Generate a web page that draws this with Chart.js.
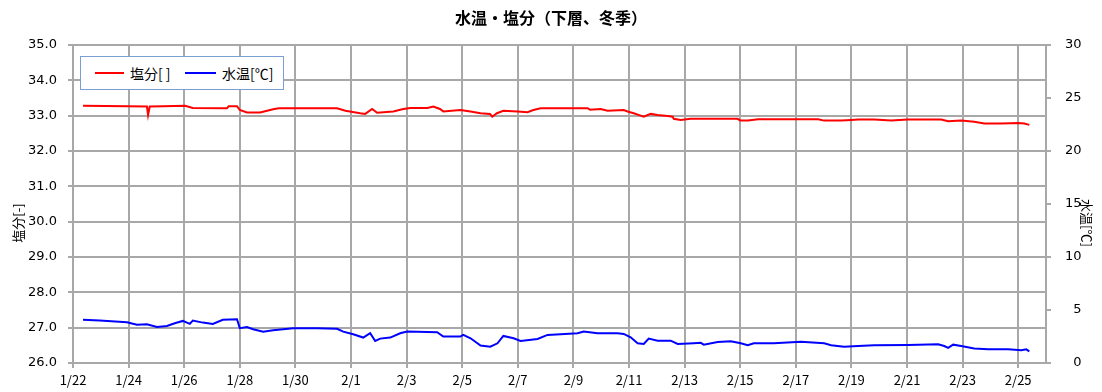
<!DOCTYPE html>
<html lang="ja">
<head>
<meta charset="utf-8">
<title>水温・塩分（下層、冬季）</title>
<script src="https://cdn.jsdelivr.net/npm/chart.js@4.4.1/dist/chart.umd.min.js"></script>
<style>
  html, body { margin: 0; padding: 0; background: #fff; }
  #wrap { position: relative; width: 1102px; height: 392px; }
  #legend {
    position: absolute; left: 80px; top: 56px; width: 204px; height: 34px;
    box-sizing: border-box; border: 1.5px solid #7b9fd3; background: #fff;
    font: 14px "Noto Sans CJK JP", sans-serif; color: #000;
  }
  #legend .item { position: absolute; top: 0; height: 31px; display: flex; align-items: center; }
  #legend .swatch { display: inline-block; height: 2px; margin-right: 6px; }
</style>
</head>
<body>
<div id="wrap">
  <canvas id="myChart" width="1102" height="392"></canvas>
  <div id="legend">
    <div class="item" style="left:14px"><span class="swatch" style="width:29px;background:#ff0000"></span>塩分[ ]</div>
    <div class="item" style="left:104px"><span class="swatch" style="width:31px;background:#0000ff"></span>水温[℃]</div>
  </div>
</div>
<script>
// ═══════════════════════════════════════
//  DONNÉES (jours depuis le 1/22)
// ═══════════════════════════════════════

const tickDays   = [0, 2, 4, 6, 8, 10, 12, 14, 16, 18, 20, 22, 24, 26, 28, 30, 32, 34];
const tickLabels = ['1/22', '1/24', '1/26', '1/28', '1/30', '2/1', '2/3', '2/5', '2/7',
                    '2/9', '2/11', '2/13', '2/15', '2/17', '2/19', '2/21', '2/23', '2/25'];

const saltDays = [0.36, 1.97, 2.66, 2.70, 2.76, 3.23, 4.03, 4.31, 5.54, 5.60, 5.90, 6.00,
                  6.26, 6.73, 7.20, 7.40, 9.50, 9.80, 10.33, 10.51, 10.76, 10.94, 11.52,
                  11.88, 12.13, 12.75, 12.96, 13.20, 13.32, 13.93, 14.30, 14.66, 15.00,
                  15.08, 15.25, 15.48, 15.99, 16.35, 16.56, 16.82, 18.51, 18.60, 18.98,
                  19.23, 19.81, 19.95, 20.17, 20.42, 20.53, 20.78, 21.03, 21.39, 21.57,
                  21.61, 21.86, 22.22, 23.91, 24.00, 24.28, 24.64, 26.80, 27.02, 27.63,
                  27.99, 28.24, 28.82, 29.43, 30.04, 31.23, 31.48, 31.95, 32.42, 32.78,
                  33.39, 34.00, 34.22, 34.40];
const saltValues = [33.28, 33.27, 33.26, 33.02, 33.26, 33.27, 33.28, 33.22, 33.21, 33.27, 33.27, 33.16,
                    33.09, 33.09, 33.18, 33.21, 33.21, 33.14, 33.07, 33.05, 33.19, 33.08, 33.12,
                    33.19, 33.22, 33.22, 33.26, 33.19, 33.12, 33.16, 33.12, 33.07, 33.05,
                    32.97, 33.07, 33.14, 33.12, 33.10, 33.16, 33.21, 33.21, 33.17, 33.19,
                    33.14, 33.16, 33.12, 33.07, 33.00, 32.97, 33.05, 33.02, 32.99, 32.97,
                    32.91, 32.88, 32.91, 32.91, 32.86, 32.86, 32.90, 32.90, 32.86, 32.86,
                    32.88, 32.89, 32.89, 32.86, 32.89, 32.89, 32.84, 32.86, 32.83, 32.78,
                    32.78, 32.79, 32.78, 32.74];

const tempDays = [0.36, 0.96, 1.94, 2.30, 2.66, 3.02, 3.38, 3.66, 3.95, 4.20, 4.31, 4.67,
                  5.03, 5.39, 5.90, 6.00, 6.26, 6.48, 6.84, 7.20, 7.92, 8.78, 9.50, 9.72,
                  10.08, 10.44, 10.69, 10.87, 11.05, 11.41, 11.77, 12.02, 13.10, 13.32,
                  13.93, 14.04, 14.30, 14.66, 15.01, 15.27, 15.48, 15.85, 16.10, 16.71,
                  17.07, 17.54, 18.15, 18.37, 18.87, 19.59, 19.81, 20.06, 20.31, 20.53,
                  20.71, 21.03, 21.50, 21.75, 22.33, 22.58, 22.69, 23.19, 23.66, 24.02,
                  24.27, 24.49, 25.21, 26.19, 27.02, 27.27, 27.74, 28.24, 28.82, 30.04,
                  31.12, 31.34, 31.48, 31.66, 31.95, 32.42, 32.92, 33.64, 34.11, 34.29, 34.40];
const tempValues = [4.07, 4.00, 3.85, 3.60, 3.66, 3.40, 3.50, 3.75, 3.97, 3.69, 4.00, 3.81,
                    3.69, 4.07, 4.13, 3.28, 3.40, 3.18, 2.96, 3.09, 3.28, 3.28, 3.22, 2.96,
                    2.71, 2.40, 2.81, 2.08, 2.30, 2.40, 2.81, 2.96, 2.90, 2.49,
                    2.49, 2.65, 2.33, 1.64, 1.54, 1.86, 2.55, 2.33, 2.08, 2.27,
                    2.65, 2.71, 2.81, 2.96, 2.81, 2.81, 2.74, 2.43, 1.86, 1.80,
                    2.30, 2.11, 2.11, 1.80, 1.86, 1.90, 1.73, 1.98, 2.05, 1.86,
                    1.67, 1.86, 1.86, 2.00, 1.86, 1.67, 1.54, 1.60, 1.67, 1.70,
                    1.76, 1.60, 1.42, 1.73, 1.60, 1.36, 1.29, 1.29, 1.20, 1.29, 1.10];

const chartTitle = '水温・塩分（下層、冬季）';
const leftTitle  = '塩分[-]';
const rightTitle = '水温[℃]';

// ═══════════════════════════════════════
//  TITRES D'AXES (décalés comme dans Excel)
// ═══════════════════════════════════════

const axisTitles = {
  id: 'axisTitles',
  afterDraw(chart) {
    const { ctx, chartArea, scales } = chart;
    const cy = (chartArea.top + chartArea.bottom) / 2 + 19;
    ctx.save();
    ctx.font = '13px "Noto Sans CJK JP"';
    ctx.fillStyle = '#000';
    ctx.textAlign = 'center';
    ctx.textBaseline = 'middle';
    ctx.translate(scales.y.left + 18, cy);
    ctx.rotate(-Math.PI / 2);
    ctx.fillText(leftTitle, 0, 0);
    ctx.restore();

    ctx.save();
    ctx.font = '13px "Noto Sans CJK JP"';
    ctx.fillStyle = '#000';
    ctx.textAlign = 'center';
    ctx.textBaseline = 'middle';
    ctx.translate(scales.y1.right - 15, cy);
    ctx.rotate(Math.PI / 2);
    ctx.fillText(rightTitle, 0, 0);
    ctx.restore();
  }
};

// ═══════════════════════════════════════
//  GRAPHE
// ═══════════════════════════════════════

const gridColor = '#a8a8a8';
const tickFont  = { family: 'DejaVu Sans', size: 13 };

const ctx = document.getElementById('myChart').getContext('2d');

new Chart(ctx, {
  type: 'line',
  data: {
    datasets: [
      {
        label: '塩分[ ]',
        data: saltDays.map((d, i) => ({ x: d, y: saltValues[i] })),
        borderColor: '#ff0000',
        borderWidth: 2,
        pointRadius: 0,
        tension: 0,
        yAxisID: 'y'
      },
      {
        label: '水温[℃]',
        data: tempDays.map((d, i) => ({ x: d, y: tempValues[i] })),
        borderColor: '#0000ff',
        borderWidth: 2,
        pointRadius: 0,
        tension: 0,
        yAxisID: 'y1'
      }
    ]
  },
  options: {
    responsive: false,
    animation: false,
    layout: { padding: 0 },
    plugins: {
      legend: { display: false },
      tooltip: { enabled: false },
      title: {
        display: true,
        text: chartTitle,
        color: '#000',
        font: { family: 'Noto Sans CJK JP', size: 16, weight: 'bold' },
        padding: { top: 8, bottom: 17.8 }
      }
    },
    scales: {
      x: {
        type: 'linear',
        min: 0,
        max: 35,
        afterBuildTicks: scale => { scale.ticks = tickDays.map(v => ({ value: v })); },
        afterFit: scale => { scale.height = 29; },
        ticks: {
          autoSkip: false,
          maxRotation: 0,
          padding: 4,
          color: '#000',
          font: { family: 'Noto Sans CJK JP', size: 13 },
          callback: v => tickLabels[tickDays.indexOf(v)]
        },
        grid: { color: gridColor, lineWidth: 2, tickLength: 5 },
        border: { color: gridColor, width: 2 }
      },
      y: {
        position: 'left',
        min: 26,
        max: 35,
        afterFit: scale => { scale.width = 73; },
        ticks: {
          stepSize: 1,
          padding: 11,
          color: '#000',
          font: tickFont,
          callback: v => v.toFixed(1)
        },
        grid: { color: gridColor, lineWidth: 2, tickLength: 5 },
        border: { color: gridColor, width: 2 }
      },
      y1: {
        position: 'right',
        min: 0,
        max: 30,
        afterFit: scale => { scale.width = 56; },
        ticks: {
          stepSize: 5,
          padding: 14,
          color: '#000',
          font: tickFont,
          callback: v => (v < 10 ? '\u2007' : '') + v
        },
        grid: { drawOnChartArea: false, color: gridColor, lineWidth: 2, tickLength: 5 },
        border: { color: gridColor, width: 2 }
      }
    }
  },
  plugins: [axisTitles]
});
</script>
</body>
</html>
